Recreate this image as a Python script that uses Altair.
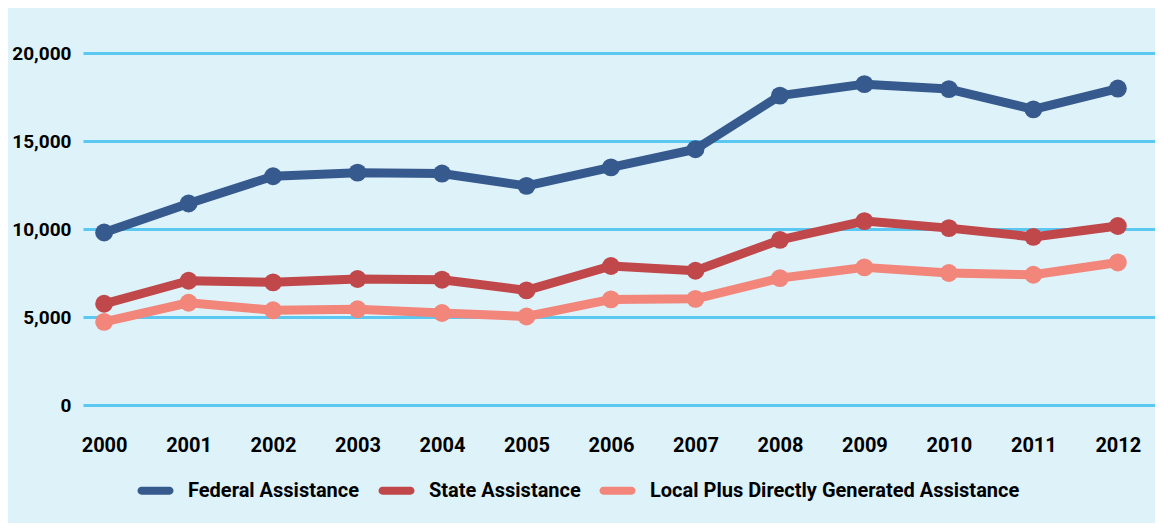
import altair as alt
import pandas as pd

years = list(range(2000, 2013))
federal = [9800, 11450, 13000, 13200, 13150, 12450, 13500, 14530, 17580, 18230, 17950, 16800, 17980]
state = [5750, 7060, 6970, 7160, 7120, 6510, 7900, 7630, 9380, 10450, 10050, 9550, 10170]
local = [4720, 5810, 5380, 5440, 5230, 5030, 6000, 6030, 7210, 7820, 7500, 7400, 8100]
series_names = ["Federal Assistance", "State Assistance", "Local Plus Directly Generated Assistance"]
series_colors = ["#365A8E", "#C0484A", "#F2867B"]
y_ticks = [0, 5000, 10000, 15000, 20000]

rows = []
for name, vals in zip(series_names, [federal, state, local]):
    for yr, v in zip(years, vals):
        rows.append({"year": yr, "value": v, "series": name})
df = pd.DataFrame(rows)

FONT = "Roboto"
FS = 20
pill = "M-1,-0.28 L1,-0.28 A0.28,0.28 0 0 1 1,0.28 L-1,0.28 A0.28,0.28 0 0 1 -1,-0.28 Z"

color = alt.Color(
    "series:N",
    scale=alt.Scale(domain=series_names, range=series_colors),
    legend=alt.Legend(
        title=None,
        orient="none",
        direction="horizontal",
        legendX=58,
        legendY=423,
        symbolType=pill,
        symbolSize=791,
        symbolStrokeWidth=0,
        symbolOpacity=1,
        labelFont=FONT,
        labelFontSize=FS,
        labelFontWeight="bold",
        labelColor="#000000",
        labelOffset=18,
        columnPadding=18,
        labelLimit=500,
    ),
)

base = alt.Chart(df).encode(
    x=alt.X(
        "year:Q",
        scale=alt.Scale(domain=[1999.75, 2012.44], nice=False, zero=False),
        axis=alt.Axis(
            values=years, format="d", title=None, grid=False, domain=False, ticks=False,
            labelFont=FONT, labelFontSize=FS, labelFontWeight="bold", labelColor="#000000",
            labelPadding=30,
        ),
    ),
    y=alt.Y(
        "value:Q",
        scale=alt.Scale(domain=[0, 20000], nice=False),
        axis=alt.Axis(
            values=y_ticks, format=",d", title=None, domain=False, ticks=False,
            grid=True, gridColor="#5AC8F0", gridWidth=3, gridOpacity=1,
            labelFont=FONT, labelFontSize=19, labelFontWeight="bold", labelColor="#000000",
            labelPadding=12,
        ),
    ),
    color=color,
    order=alt.Order("year:Q"),
)

lines = base.mark_line(strokeWidth=9, strokeCap="round", strokeJoin="round")
points = base.mark_circle(size=320, opacity=1)

chart = alt.layer(lines, points).properties(
    width=1072,
    height=352,
    padding={"left": 75, "top": 45, "right": 0, "bottom": 118},
    autosize=alt.AutoSizeParams(type="none"),
    background="#DEF2FA",
).configure_view(stroke=None)

chart.save("out.html", embed_options={"renderer": "svg", "actions": False})
